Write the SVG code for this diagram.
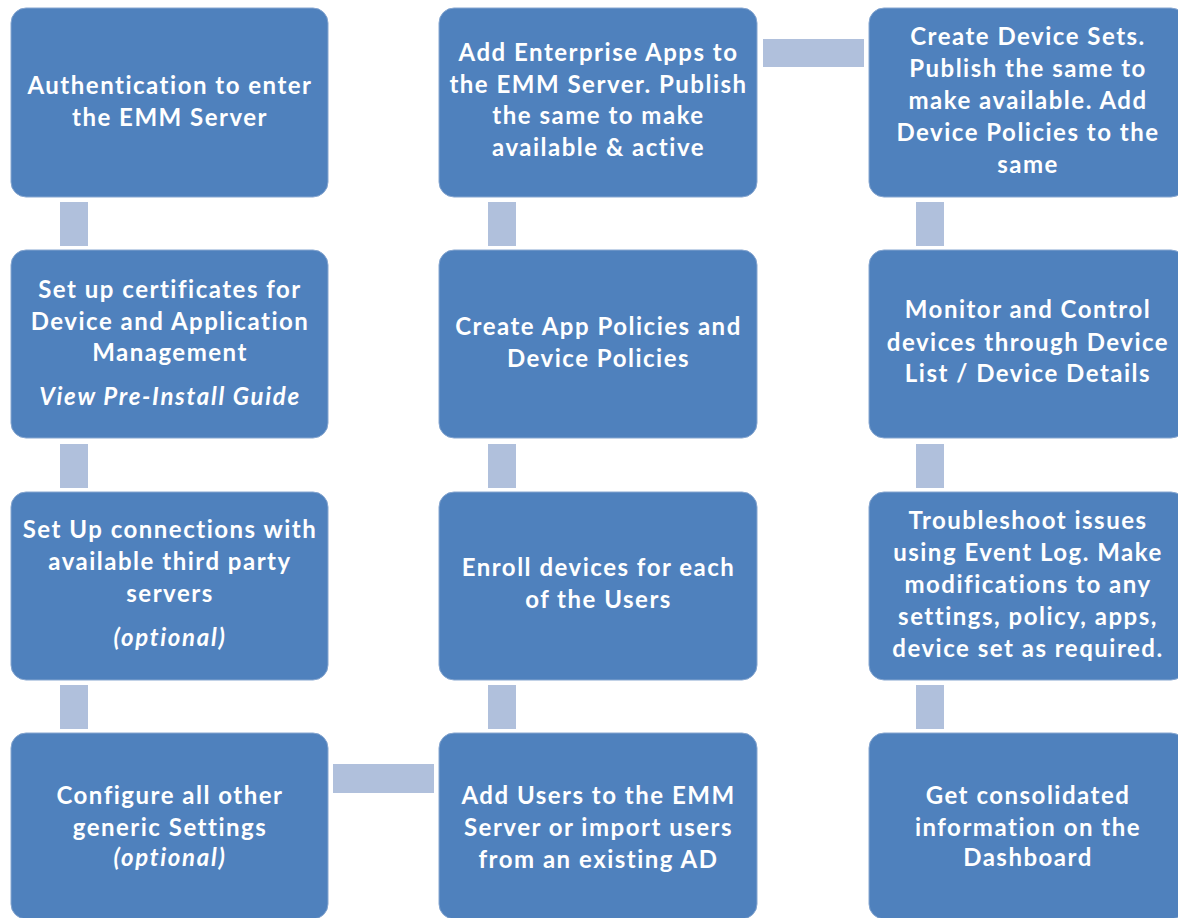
<svg xmlns="http://www.w3.org/2000/svg" width="1178" height="918" viewBox="0 0 1178 918">
  <style>
    .box { fill: #4f81bd; stroke: #86a6d0; stroke-width: 1; }
    .link { fill: #b0c0dc; }
    .label { font-family: Lato, "Open Sans", "Liberation Sans", sans-serif; font-size: 24px; font-weight: bold; letter-spacing: 1.5px; fill: #ffffff; text-anchor: middle; }
    .note { font-style: italic; letter-spacing: 1.7px; }
  </style>
  <rect x="0" y="0" width="1178" height="918" fill="#ffffff"/>

  <!-- connector bars between steps -->
  <g id="connectors">
    <rect class="link" x="60" y="202" width="28" height="44"/>
    <rect class="link" x="60" y="444" width="28" height="44"/>
    <rect class="link" x="60" y="685" width="28" height="44"/>
    <rect class="link" x="333" y="764" width="101" height="29"/>
    <rect class="link" x="488" y="685" width="28" height="44"/>
    <rect class="link" x="488" y="444" width="28" height="44"/>
    <rect class="link" x="488" y="202" width="28" height="44"/>
    <rect class="link" x="763" y="39" width="101" height="28"/>
    <rect class="link" x="916" y="202" width="28" height="44"/>
    <rect class="link" x="916" y="444" width="28" height="44"/>
    <rect class="link" x="916" y="685" width="28" height="44"/>
  </g>

  <!-- column 1 -->
  <g id="step-authentication">
    <rect class="box" x="11" y="8" width="317" height="189" rx="15"/>
    <text class="label" x="170"><tspan x="170" y="94">Authentication to enter</tspan><tspan x="170" y="126">the EMM Server</tspan></text>
  </g>
  <g id="step-certificates">
    <rect class="box" x="11" y="250" width="317" height="188" rx="15"/>
    <text class="label" x="170"><tspan x="170" y="298">Set up certificates for</tspan><tspan x="170" y="330">Device and Application</tspan><tspan x="170" y="361">Management</tspan></text>
    <text class="label note" x="170" y="405">View Pre-Install Guide</text>
  </g>
  <g id="step-connections">
    <rect class="box" x="11" y="492" width="317" height="188" rx="15"/>
    <text class="label" x="170"><tspan x="170" y="538">Set Up connections with</tspan><tspan x="170" y="570">available third party</tspan><tspan x="170" y="602">servers</tspan></text>
    <text class="label note" x="170" y="646">(optional)</text>
  </g>
  <g id="step-settings">
    <rect class="box" x="11" y="733" width="317" height="186" rx="15"/>
    <text class="label" x="170"><tspan x="170" y="804">Configure all other</tspan><tspan x="170" y="836">generic Settings</tspan></text>
    <text class="label note" x="170" y="866">(optional)</text>
  </g>

  <!-- column 2 -->
  <g id="step-users">
    <rect class="box" x="439" y="733" width="318" height="186" rx="15"/>
    <text class="label" x="598.5"><tspan x="598.5" y="804">Add Users to the EMM</tspan><tspan x="598.5" y="836">Server or import users</tspan><tspan x="598.5" y="868">from an existing AD</tspan></text>
  </g>
  <g id="step-enroll">
    <rect class="box" x="439" y="492" width="318" height="188" rx="15"/>
    <text class="label" x="598.5"><tspan x="598.5" y="576">Enroll devices for each</tspan><tspan x="598.5" y="608">of the Users</tspan></text>
  </g>
  <g id="step-policies">
    <rect class="box" x="439" y="250" width="318" height="188" rx="15"/>
    <text class="label" x="598.5"><tspan x="598.5" y="335">Create App Policies and</tspan><tspan x="598.5" y="367">Device Policies</tspan></text>
  </g>
  <g id="step-apps">
    <rect class="box" x="439" y="8" width="318" height="189" rx="15"/>
    <text class="label" x="598.5"><tspan x="598.5" y="61">Add Enterprise Apps to</tspan><tspan x="598.5" y="93">the EMM Server. Publish</tspan><tspan x="598.5" y="124">the same to make</tspan><tspan x="598.5" y="156">available &amp; active</tspan></text>
  </g>

  <!-- column 3 -->
  <g id="step-device-sets">
    <rect class="box" x="869" y="8" width="317" height="189" rx="15"/>
    <text class="label" x="1028"><tspan x="1028" y="45">Create Device Sets.</tspan><tspan x="1028" y="77">Publish the same to</tspan><tspan x="1028" y="109">make available. Add</tspan><tspan x="1028" y="141">Device Policies to the</tspan><tspan x="1028" y="173">same</tspan></text>
  </g>
  <g id="step-monitor">
    <rect class="box" x="869" y="250" width="317" height="188" rx="15"/>
    <text class="label" x="1028"><tspan x="1028" y="318">Monitor and Control</tspan><tspan x="1028" y="351">devices through Device</tspan><tspan x="1028" y="382">List / Device Details</tspan></text>
  </g>
  <g id="step-troubleshoot">
    <rect class="box" x="869" y="492" width="317" height="188" rx="15"/>
    <text class="label" x="1028"><tspan x="1028" y="529">Troubleshoot issues</tspan><tspan x="1028" y="561">using Event Log. Make</tspan><tspan x="1028" y="593">modifications to any</tspan><tspan x="1028" y="625">settings, policy, apps,</tspan><tspan x="1028" y="657">device set as required.</tspan></text>
  </g>
  <g id="step-dashboard">
    <rect class="box" x="869" y="733" width="317" height="186" rx="15"/>
    <text class="label" x="1028"><tspan x="1028" y="804">Get consolidated</tspan><tspan x="1028" y="836">information on the</tspan><tspan x="1028" y="866">Dashboard</tspan></text>
  </g>
</svg>
